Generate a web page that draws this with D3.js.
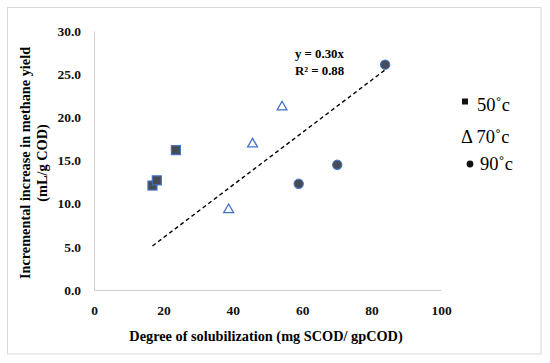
<!DOCTYPE html>
<html>
<head>
<meta charset="utf-8">
<script src="https://cdn.jsdelivr.net/npm/d3@7"></script>
<style>
body{margin:0;background:#fff}
svg text{font-family:"Liberation Serif","Tinos","Times New Roman","DejaVu Serif",serif !important}
</style>
</head>
<body>
<svg id="main_svg" width="550" height="363"></svg>
<script>
// data
const s50_x=[16.85,18.1,23.6]
const s50_y=[12.1,12.7,16.2]
const s70_x=[38.8,45.7,54.2]
const s70_y=[9.3,16.9,21.2]
const s90_x=[59.0,70.1,83.9]
const s90_y=[12.3,14.5,26.1]
const trend_x=[16.85,83.9]
const trend_y=[5.1,25.5]
const x_ticks=[0,20,40,60,80,100]
const y_ticks=[0,5,10,15,20,25,30]
const legend_labels=["50˚c","70˚c","90˚c"]

const svg=d3.select("#main_svg")
const x=d3.scaleLinear().domain([0,100]).range([94,441])
const y=d3.scaleLinear().domain([0,30]).range([290,31])

svg.append("rect")
    .attr("x",7.5).attr("y",7.5).attr("width",533.5).attr("height",346.5)
    .attr("fill","none").attr("stroke","#d9d9d9")

// axes
const xa=svg.append("g").attr("transform","translate(0,290)")
    .call(d3.axisBottom(x).tickValues(x_ticks).tickSize(0).tickPadding(15).tickFormat(d3.format("d")))
const ya=svg.append("g").attr("transform","translate(94,0)")
    .call(d3.axisLeft(y).tickValues(y_ticks).tickSize(0).tickPadding(13).tickFormat(d3.format(".1f")))
for(const a of [xa,ya]){
    a.attr("font-family",null)
    a.select(".domain").attr("stroke","#d0d0d0")
    a.selectAll("text").attr("font-size",13.5).attr("font-weight","bold").attr("fill","#111")
}

svg.append("text").attr("x",266).attr("y",341)
    .attr("text-anchor","middle").attr("font-size",14.3).attr("font-weight","bold")
    .text("Degree of solubilization (mg SCOD/ gpCOD)")
const yt=svg.append("text").attr("transform","translate(30,163) rotate(-90)")
    .attr("text-anchor","middle").attr("font-size",14.3).attr("font-weight","bold")
yt.append("tspan").attr("x",0).attr("dy",0).text("Incremental increase in methane yield")
yt.append("tspan").attr("x",0).attr("dy",17).text("(mL/g COD)")

// trend line
svg.append("line")
    .attr("x1",x(trend_x[0])).attr("y1",y(trend_y[0]))
    .attr("x2",x(trend_x[1])).attr("y2",y(trend_y[1]))
    .attr("stroke","#000").attr("stroke-width",1.4).attr("stroke-dasharray","4,3")

svg.append("text").attr("x",295).attr("y",58).attr("font-size",12.8).attr("font-weight","bold")
    .text("y = 0.30x")
svg.append("text").attr("x",295).attr("y",74.5).attr("font-size",12.8).attr("font-weight","bold")
    .text("R² = 0.88")

// markers
const blue="#4472c4", dark="#474b55"
svg.selectAll(".sq").data(d3.zip(s50_x,s50_y)).enter().append("rect")
    .attr("x",d=>x(d[0])-4.5).attr("y",d=>y(d[1])-4.5)
    .attr("width",9).attr("height",9)
    .attr("fill",dark).attr("stroke",blue).attr("stroke-width",1.2)
svg.selectAll(".tri").data(d3.zip(s70_x,s70_y)).enter().append("path")
    .attr("d",d3.symbol(d3.symbolTriangle,42))
    .attr("transform",d=>"translate("+x(d[0])+","+y(d[1])+")")
    .attr("fill","#fff").attr("stroke",blue).attr("stroke-width",1.3)
svg.selectAll(".ci").data(d3.zip(s90_x,s90_y)).enter().append("circle")
    .attr("cx",d=>x(d[0])).attr("cy",d=>y(d[1])).attr("r",4.6)
    .attr("fill",dark).attr("stroke",blue).attr("stroke-width",1.2)

// legend
svg.append("rect").attr("x",462).attr("y",98.5).attr("width",6).attr("height",6).attr("fill","#111")
svg.append("text").attr("x",477).attr("y",111).attr("font-size",18.5).text(legend_labels[0])
svg.append("text").attr("x",461).attr("y",143).attr("font-size",18.5).text("Δ "+legend_labels[1])
svg.append("circle").attr("cx",470).attr("cy",164).attr("r",3.4).attr("fill","#111")
svg.append("text").attr("x",480).attr("y",170).attr("font-size",18.5).text(legend_labels[2])
</script>
</body>
</html>
